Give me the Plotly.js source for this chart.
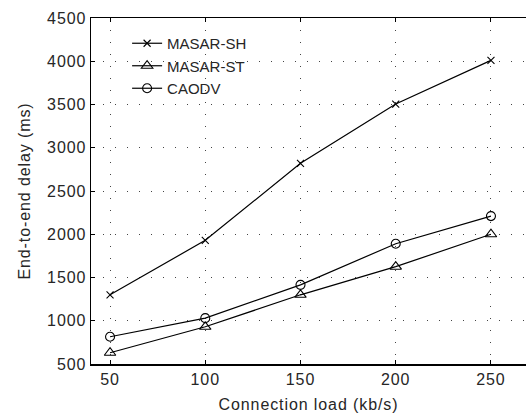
<!DOCTYPE html>
<html>
<head>
<meta charset="utf-8">
<script src="https://cdn.plot.ly/plotly-3.0.1.min.js"></script>
<style>
html,body{margin:0;padding:0;background:#fff;}
#chart{width:526px;height:416px;}
#chart .xtick text, #chart .ytick text, #chart .g-xtitle text, #chart .g-ytitle text {letter-spacing: 0.9px;}
</style>
</head>
<body>
<div id="chart"></div>
<script>
const loads = [50, 100, 150, 200, 250];
const masarSH = [1300, 1930, 2820, 3505, 4010];
const masarST = [630, 930, 1300, 1625, 2000];
const caodv = [815, 1030, 1415, 1890, 2210];
const seriesNames = ['MASAR-SH', 'MASAR-ST', 'CAODV'];
const xTicks = [50, 100, 150, 200, 250];
const yTicks = [500, 1000, 1500, 2000, 2500, 3000, 3500, 4000, 4500];

const FAM = '"Liberation Sans", Arial, Helvetica, sans-serif';
const TXT = '#262626';
function tr(y, name, symbol, size) {
  return {x: loads, y: y, name: name, type: 'scatter', mode: 'lines+markers',
    line: {color: '#000', width: 1.2},
    marker: {symbol: symbol, size: size, color: '#000', line: {color: '#000', width: 1.1}}};
}
const data = [
  tr(masarSH, seriesNames[0], 'x-thin', 7),
  tr(masarST, seriesNames[1], 'triangle-up-open', 10),
  tr(caodv, seriesNames[2], 'circle-open', 9)
];
const layout = {
  width: 526, height: 416,
  margin: {l: 91, r: 0, t: 18, b: 52},
  paper_bgcolor: '#fff', plot_bgcolor: '#fff',
  font: {family: FAM, color: TXT, size: 16},
  showlegend: true,
  legend: {x: 0.083, y: 0.974, xanchor: 'left', yanchor: 'top', bgcolor: 'rgba(0,0,0,0)',
    borderwidth: 0, font: {family: FAM, size: 15, color: TXT}, tracegroupgap: 0},
  xaxis: {
    range: [40, 268.4], tickvals: xTicks, ticktext: xTicks.map(String),
    showline: true, linecolor: '#000', linewidth: 1.5, mirror: 'ticks',
    ticks: 'inside', ticklen: 4, tickcolor: '#000',
    showgrid: true, gridcolor: '#444', gridwidth: 1, griddash: '1px,11px',
    zeroline: false,
    title: {text: 'Connection load (kb/s)', font: {family: FAM, size: 16, color: TXT}, standoff: 12},
    tickfont: {family: FAM, size: 16, color: TXT}
  },
  yaxis: {
    range: [500, 4500], tickvals: yTicks, ticktext: yTicks.map(String),
    showline: true, linecolor: '#000', linewidth: 1.5, mirror: false,
    ticks: 'inside', ticklen: 4, tickcolor: '#000',
    showgrid: true, gridcolor: '#444', gridwidth: 1, griddash: '1px,11px',
    zeroline: false,
    title: {text: 'End-to-end delay (ms)', font: {family: FAM, size: 16, color: TXT}, standoff: 16},
    tickfont: {family: FAM, size: 16, color: TXT}
  }
};
Plotly.newPlot('chart', data, layout, {displayModeBar: false, staticPlot: true});
</script>
</body>
</html>
